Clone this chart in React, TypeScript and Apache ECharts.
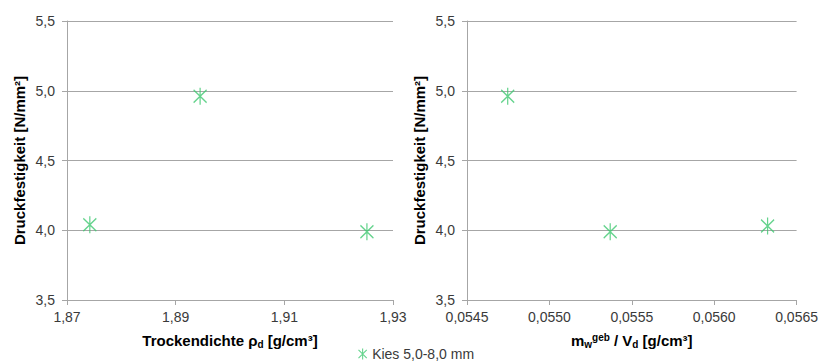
import React, { useEffect, useRef } from "react";
import * as echarts from "echarts";

const seriesName = "Kies 5,0-8,0 mm";
const densityX = [1.8742, 1.8945, 1.9252];
const densityY = [4.04, 4.96, 3.99];
const waterX = [0.054747, 0.055369, 0.056324];
const waterY = [4.96, 3.99, 4.03];
const yTicks = [3.5, 4.0, 4.5, 5.0, 5.5];

const GREEN = "#3ec870";
const STAR = "path://M0 2 L12 14 M12 2 L0 14 M6 0 L6 16";
const FONT = "Liberation Sans, Arial, sans-serif";

export default function App() {
  const ref = useRef<HTMLDivElement>(null);
  useEffect(() => {
    const chart = echarts.init(ref.current!, undefined, { renderer: "svg" });
    const fmtComma = (d: number) => (v: number) => v.toFixed(d).replace(".", ",");
    const yAxisBase = (gridIndex: number) => ({
      type: "value",
      gridIndex,
      min: yTicks[0],
      max: yTicks[yTicks.length - 1],
      interval: 0.5,
      name: "Druckfestigkeit [N/mm²]",
      nameLocation: "middle",
      nameGap: 40,
      nameTextStyle: { fontFamily: FONT, fontSize: 15, fontWeight: "bold", color: "#000" },
      axisLine: { show: true, lineStyle: { color: "#a6a6a6", width: 1 } },
      axisTick: { show: true, length: 5, lineStyle: { color: "#a6a6a6" } },
      axisLabel: { fontFamily: FONT, fontSize: 14, color: "#3a3a3a", margin: 12, formatter: fmtComma(1) },
      splitLine: { show: true, lineStyle: { color: "#a6a6a6", width: 1 } },
    });
    const xLabelStyle = { fontFamily: FONT, fontSize: 14, color: "#3a3a3a", margin: 10 };
    const nameRich = {
      a: { fontFamily: FONT, fontSize: 15, fontWeight: "bold", color: "#000" },
      sub: { fontFamily: FONT, fontSize: 10, fontWeight: "bold", color: "#000", padding: [8, 0, 0, 0] },
      sup: { fontFamily: FONT, fontSize: 10, fontWeight: "bold", color: "#000", padding: [0, 0, 6, 0] },
    };
    const markerStyle = { color: "none", borderColor: GREEN, borderWidth: 1.4 };
    chart.setOption({
      animation: false,
      backgroundColor: "#fff",
      grid: [
        { left: 67, right: 428, top: 21, bottom: 61 },
        { left: 467, right: 24, top: 21, bottom: 61 },
      ],
      legend: {
        data: [{ name: seriesName, icon: STAR }],
        top: 346,
        left: 356,
        itemWidth: 9,
        itemHeight: 11,
        itemGap: 4,
        padding: 0,
        textStyle: { fontFamily: FONT, fontSize: 14, lineHeight: 14, color: "#3a3a3a" },
        itemStyle: { ...markerStyle, borderWidth: 1.1 },
      },
      xAxis: [
        {
          type: "value",
          gridIndex: 0,
          min: 1.87,
          max: 1.93,
          interval: 0.02,
          name: "{a|Trockendichte ρ}{sub|d}{a| [g/cm³]}",
          nameLocation: "middle",
          nameGap: 31,
          nameTextStyle: { rich: nameRich },
          axisLine: { show: true, onZero: false, lineStyle: { color: "#a6a6a6" } },
          axisTick: { show: true, length: 5, lineStyle: { color: "#a6a6a6" } },
          axisLabel: { ...xLabelStyle, formatter: fmtComma(2) },
          splitLine: { show: false },
        },
        {
          type: "value",
          gridIndex: 1,
          min: 0.0545,
          max: 0.0565,
          interval: 0.0005,
          name: "{a|m}{sub|w}{sup|geb}{a| / V}{sub|d}{a| [g/cm³]}",
          nameLocation: "middle",
          nameGap: 31,
          nameTextStyle: { rich: nameRich },
          axisLine: { show: true, onZero: false, lineStyle: { color: "#a6a6a6" } },
          axisTick: { show: true, length: 5, lineStyle: { color: "#a6a6a6" } },
          axisLabel: { ...xLabelStyle, formatter: fmtComma(4) },
          splitLine: { show: false },
        },
      ],
      yAxis: [yAxisBase(0), yAxisBase(1)],
      series: [
        {
          name: seriesName,
          type: "scatter",
          xAxisIndex: 0,
          yAxisIndex: 0,
          symbol: STAR,
          symbolSize: [13, 17],
          symbolKeepAspect: false,
          itemStyle: markerStyle,
          data: densityX.map((x, i) => [x, densityY[i]]),
        },
        {
          name: seriesName,
          type: "scatter",
          xAxisIndex: 1,
          yAxisIndex: 1,
          symbol: STAR,
          symbolSize: [13, 17],
          symbolKeepAspect: false,
          itemStyle: markerStyle,
          data: waterX.map((x, i) => [x, waterY[i]]),
        },
      ],
    });
    return () => chart.dispose();
  }, []);
  return (
    <div
      ref={ref}
      style={{ position: "fixed", left: 0, top: 0, width: 821, height: 361, overflow: "hidden" }}
    />
  );
}
